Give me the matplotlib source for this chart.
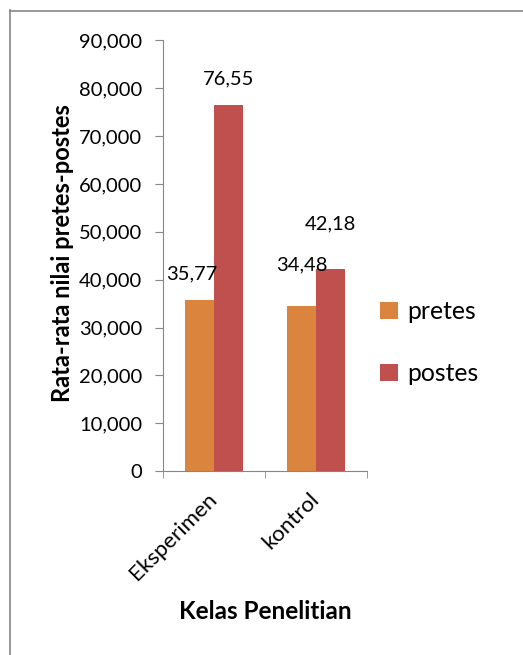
import matplotlib.pyplot as plt
import numpy as np
from matplotlib.lines import Line2D

plt.rcParams['font.family'] = ['Lato', 'DejaVu Sans']

# Data
kelas = ['Eksperimen', 'kontrol']
pretes = [35770, 34480]
postes = [76550, 42180]
label_pretes = ['35,77', '34,48']
label_postes = ['76,55', '42,18']
yticks = [0, 10000, 20000, 30000, 40000, 50000, 60000, 70000, 80000, 90000]

c_pretes = '#DA843E'
c_postes = '#C0504D'
abu = '#868686'

W, H = 523, 655
fig = plt.figure(figsize=(W / 100, H / 100), dpi=100)
ax = fig.add_axes([163 / W, 1 - 471 / H, 204 / W, 430.5 / H])

x = np.arange(len(kelas))
lebar = 0.285
b1 = ax.bar(x - lebar / 2, pretes, lebar, color=c_pretes, label='pretes')
b2 = ax.bar(x + lebar / 2, postes, lebar, color=c_postes, label='postes')

# Label nilai (posisi mengikuti gambar asli)
off_pretes = [(-5.4, 18.7), (0, 30)]
off_postes = [(0, 18.7), (0, 33)]
for bar, teks, off in zip(b1, label_pretes, off_pretes):
    ax.annotate(teks, (bar.get_x() + bar.get_width() / 2, bar.get_height()),
                xytext=off, textcoords='offset points', ha='center', va='center',
                fontsize=14.5)
for bar, teks, off in zip(b2, label_postes, off_postes):
    ax.annotate(teks, (bar.get_x() + bar.get_width() / 2, bar.get_height()),
                xytext=off, textcoords='offset points', ha='center', va='center',
                fontsize=14.5)

ax.set_xlim(-0.5, len(kelas) - 0.5)
ax.set_ylim(0, 90000)
ax.set_yticks(yticks)
ax.set_yticklabels(['0' if v == 0 else '{:,}'.format(v) for v in yticks], fontsize=14.5)
ax.set_xticks(x)
ax.set_xticklabels(kelas, rotation=45, ha='right', va='center',
                   rotation_mode='anchor', fontsize=16)
ax.set_xticks(np.arange(len(kelas) + 1) - 0.5, minor=True)
ax.tick_params(axis='x', which='major', length=0, pad=18)
ax.tick_params(axis='x', which='minor', length=5, color=abu, direction='out')
ax.tick_params(axis='y', length=5.8, color=abu, direction='out', pad=9)

for s in ['top', 'right']:
    ax.spines[s].set_visible(False)
for s in ['left', 'bottom']:
    ax.spines[s].set_color(abu)

ax.set_ylabel('Rata-rata nilai pretes-postes', fontsize=17, fontweight='bold', va='center')
ax.yaxis.set_label_coords(-0.495, 0.506)
ax.set_xlabel('Kelas Penelitian', fontsize=17.5, fontweight='bold', va='center')
ax.xaxis.set_label_coords(0.5, -0.3275)

ax.legend(loc='center left', bbox_to_anchor=(0.957, 0.298), frameon=False,
          fontsize=17.8, handlelength=0.7, handleheight=0.7, handletextpad=0.4,
          labelspacing=1.6)

# Bingkai luar
fig.add_artist(Line2D([9.5 / W, 9.5 / W], [1 - 10 / H, 0], color=abu, lw=1.2))
fig.add_artist(Line2D([9.5 / W, 1], [1 - 10.5 / H, 1 - 10.5 / H], color=abu, lw=1.2))

fig.savefig('out.png', dpi=100)
